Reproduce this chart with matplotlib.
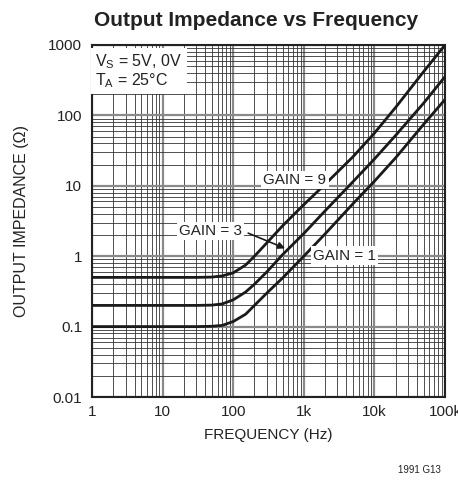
import matplotlib

matplotlib.use("Agg")
import matplotlib.pyplot as plt
from matplotlib.ticker import FixedLocator, LogLocator, NullFormatter

plt.rcParams["font.family"] = ["Liberation Sans", "DejaVu Sans"]

# Frequency (Hz) and output impedance (ohm)
freq = [1, 10, 30, 50, 70, 100, 150, 200, 300, 500, 1e3, 2e3, 5e3, 1e4, 2e4, 5e4, 1e5]
z_gain9 = [0.5, 0.5, 0.5, 0.505, 0.525, 0.58, 0.75, 1.0, 1.55, 2.7, 5.4, 10.5, 26, 56, 130, 420, 1000]
z_gain3 = [0.2, 0.2, 0.2, 0.202, 0.21, 0.24, 0.31, 0.4, 0.6, 1.05, 2.1, 4.4, 11.5, 24, 52, 150, 355]
z_gain1 = [0.1, 0.1, 0.1, 0.101, 0.104, 0.118, 0.15, 0.2, 0.3, 0.49, 1.0, 2.07, 5.6, 11.6, 25, 75, 168]

x_ticks = [1, 10, 100, 1e3, 1e4, 1e5]
x_labels = ["1", "10", "100", "1k", "10k", "100k"]
y_ticks = [0.01, 0.1, 1, 10, 100, 1000]
y_labels = ["0.01", "0.1", "1", "10", "100", "1000"]

fig = plt.figure(figsize=(4.58, 4.87), dpi=100)
ax = fig.add_axes([0.2009, 0.1848, 0.7707, 0.7228])
ax.set_xscale("log")
ax.set_yscale("log")
ax.set_xlim(1, 1e5)
ax.set_ylim(0.01, 1000)

ax.xaxis.set_major_locator(FixedLocator(x_ticks))
ax.yaxis.set_major_locator(FixedLocator(y_ticks))
ax.xaxis.set_minor_locator(LogLocator(base=10, subs=range(2, 10), numticks=20))
ax.yaxis.set_minor_locator(LogLocator(base=10, subs=range(2, 10), numticks=20))
ax.xaxis.set_minor_formatter(NullFormatter())
ax.yaxis.set_minor_formatter(NullFormatter())
ax.set_xticklabels(x_labels)
ax.set_yticklabels(y_labels)
ax.tick_params(which="both", length=0, labelsize=11, colors="#222222")
ax.tick_params(axis="x", pad=6)
ax.tick_params(axis="y", pad=7)

ax.grid(True, which="major", color="#8a8a8a", lw=1.6)
ax.grid(True, which="minor", color="#333333", lw=0.6)
ax.set_axisbelow(True)
for s in ax.spines.values():
    s.set_linewidth(1.5)
    s.set_color("#222222")

for z in (z_gain9, z_gain3, z_gain1):
    ax.plot(freq, z, color="#1a1a1a", lw=2, solid_capstyle="round", zorder=3)

white = dict(facecolor="white", edgecolor="none", pad=1.5)
ax.text(1.12, 800, "V$_\\mathregular{S}$ = 5V, 0V\nT$_\\mathregular{A}$ = 25°C",
        fontsize=11.5, va="top", ha="left", linespacing=1.05, color="#222222",
        bbox=dict(facecolor="white", edgecolor="none", pad=3), zorder=4)
ax.text(750, 12, "GAIN = 9", fontsize=11, ha="center", va="center", color="#222222",
        bbox=white, zorder=4)
ax.text(48, 2.3, "GAIN = 3", fontsize=11, ha="center", va="center", color="#222222",
        bbox=white, zorder=4)
ax.text(3800, 1.02, "GAIN = 1", fontsize=11, ha="center", va="center", color="#222222",
        bbox=white, zorder=4)
ax.annotate("", xy=(590, 1.25), xytext=(150, 2.2),
            arrowprops=dict(arrowstyle="-|>", color="#1a1a1a", lw=1.2, mutation_scale=10),
            zorder=4)

ax.set_xlabel("FREQUENCY (Hz)", fontsize=11, color="#222222", labelpad=6)
ax.set_ylabel("OUTPUT IMPEDANCE (Ω)", fontsize=11.5, color="#222222", labelpad=14)
fig.text(0.559, 0.957, "Output Impedance vs Frequency", fontsize=15, fontweight="bold",
         ha="center", va="center", color="#222222")
fig.text(0.963, 0.035, "1991 G13", fontsize=7, ha="right", va="center", color="#222222")

fig.savefig("out.png", dpi=100)
